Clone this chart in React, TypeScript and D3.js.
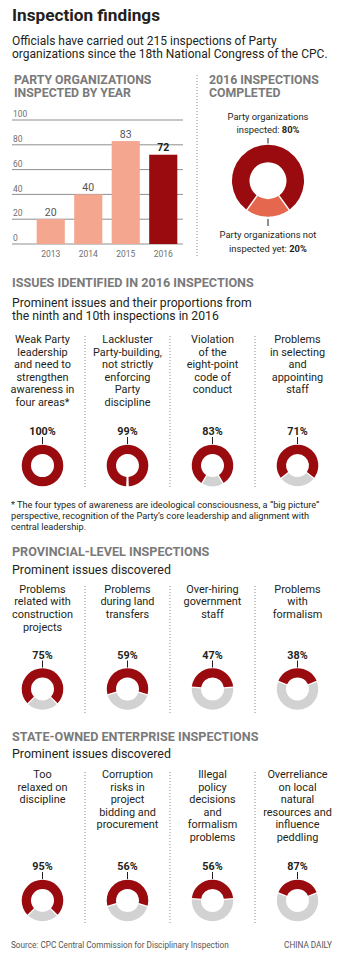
import React from "react";
import * as d3 from "d3";

// ---- data ----
const years = ["2013", "2014", "2015", "2016"];
const inspections = [20, 40, 83, 72];
const yTicks = [0, 20, 40, 60, 80, 100];

const completedLabels = ["inspected", "not inspected"];
const completedShares = [80, 20];

const issueLabels = [
  ["Weak Party", "leadership", "and need to", "strengthen", "awareness in", "four areas*"],
  ["Lackluster", "Party-building,", "not strictly", "enforcing", "Party", "discipline"],
  ["Violation", "of the", "eight-point", "code of", "conduct"],
  ["Problems", "in selecting", "and", "appointing", "staff"],
];
const issueShares = [100, 99, 83, 71];

const provLabels = [
  ["Problems", "related with", "construction", "projects"],
  ["Problems", "during land", "transfers"],
  ["Over-hiring", "government", "staff"],
  ["Problems", "with", "formalism"],
];
const provShares = [75, 59, 47, 38];

const soeLabels = [
  ["Too", "relaxed on", "discipline"],
  ["Corruption", "risks in", "project", "bidding and", "procurement"],
  ["Illegal", "policy", "decisions", "and", "formalism", "problems"],
  ["Overreliance", "on local", "natural", "resources and", "influence", "peddling"],
];
const soeShares = [95, 56, 56, 87];
// the printed rings for this row repeat the provincial arcs
const soeArcShares = [75, 59, 47, 38];

const footnote = [
  "* The four types of awareness are ideological consciousness, a \u201cbig picture\u201d",
  "perspective, recognition of the Party\u2019s core leadership and alignment with",
  "central leadership.",
];

const FONT = "Roboto, 'Open Sans', sans-serif";
const RED = "#9a0b10";
const SALMON = "#f5a68e";
const ORANGE = "#e5674d";
const GREY = "#d2d2d2";
const HEAD = "#7a7a7a";
const INK = "#231f20";

const W = 351;
const H = 963;

// column layout shared by the three ring rows
const col = d3.scaleBand<number>().domain([0, 1, 2, 3]).range([0, 340]);

function Ring({ cx, cy, share, label }: { cx: number; cy: number; share: number; label: string }) {
  const arc = d3.arc<any>().innerRadius(11.5).outerRadius(20.8).padAngle(0.07).padRadius(18);
  const a = (share / 100) * Math.PI;
  return (
    <g>
      <text x={cx} y={cy - 30.5} textAnchor="middle" fontWeight="bold" fontSize={10.8} fill={INK}>
        {label}
      </text>
      <line x1={cx} x2={cx} y1={cy - 28.5} y2={cy - 21.5} stroke={INK} strokeWidth={1} />
      {share < 100 && (
        <path
          transform={`translate(${cx},${cy})`}
          d={arc({ startAngle: a, endAngle: 2 * Math.PI - a }) || ""}
          fill={GREY}
        />
      )}
      <path
        transform={`translate(${cx},${cy})`}
        d={
          share >= 100
            ? d3.arc<any>().innerRadius(11.5).outerRadius(20.8)({ startAngle: 0, endAngle: 2 * Math.PI }) || ""
            : arc({ startAngle: -a, endAngle: a }) || ""
        }
        fill={RED}
      />
    </g>
  );
}

function RingRow({
  labels,
  shares,
  arcShares,
  top,
  ringY,
  divTop,
  divBottom,
}: {
  labels: string[][];
  shares: number[];
  arcShares: number[];
  top: number;
  ringY: number;
  divTop: number;
  divBottom: number;
}) {
  return (
    <g>
      {[1, 2, 3].map((i) => (
        <line
          key={i}
          x1={col(i)!}
          x2={col(i)!}
          y1={divTop}
          y2={divBottom}
          stroke="#8a8a8a"
          strokeDasharray="1,2"
        />
      ))}
      {labels.map((lines, i) => {
        const cx = col(i)! + col.bandwidth() / 2;
        return (
          <g key={i}>
            <text textAnchor="middle" fontSize={10.9} fill={INK}>
              {lines.map((t, j) => (
                <tspan key={j} x={cx} y={top + j * 12.6}>
                  {t}
                </tspan>
              ))}
            </text>
            <Ring cx={cx} cy={ringY} share={arcShares[i]} label={shares[i] + "%"} />
          </g>
        );
      })}
    </g>
  );
}

export default function App() {
  const x = d3.scaleBand<string>().domain(years).range([32, 182]).paddingInner(0.25).paddingOuter(0.125);
  const y = d3.scaleLinear().domain([0, 100]).range([244, 120]);

  const pie = d3
    .pie<number>()
    .sort(null)
    .startAngle(-(completedShares[0] / 100) * Math.PI)
    .endAngle(2 * Math.PI - (completedShares[0] / 100) * Math.PI);
  const bigArc = d3.arc<any>().innerRadius(18.5).outerRadius(36).padAngle(0.05).padRadius(30);
  const slices = pie(completedShares);

  return (
    <svg
      width={W}
      height={H}
      style={{ position: "absolute", left: 0, top: 0, background: "#fff" }}
      fontFamily={FONT}
    >
      <rect width={W} height={H} fill="#fff" />
      {/* title block */}
      <text x={12} y={20.5} fontSize={17.2} fontWeight="bold" fill={INK}>
        Inspection findings
      </text>
      <text fontSize={12} fill={INK}>
        <tspan x={12} y={44.6}>Officials have carried out 215 inspections of Party</tspan>
        <tspan x={12} y={57.8}>organizations since the 18th National Congress of the CPC.</tspan>
      </text>

      {/* bar chart */}
      <text fontSize={12.3} fontWeight="bold" fill={HEAD}>
        <tspan x={14} y={83.6}>PARTY ORGANIZATIONS</tspan>
        <tspan x={14} y={97.1}>INSPECTED BY YEAR</tspan>
      </text>
      {yTicks.map((t) => (
        <g key={t}>
          <line x1={12} x2={183} y1={y(t)} y2={y(t)} stroke="#8f8f8f" strokeWidth={1} />
          <text x={13} y={y(t) - 2.8} fontSize={8.5} fill="#6f6f6f">
            {t}
          </text>
        </g>
      ))}
      {years.map((yr, i) => {
        const last = i === years.length - 1;
        return (
          <g key={yr}>
            <rect
              x={x(yr)!}
              y={y(inspections[i])}
              width={x.bandwidth()}
              height={y(0) - y(inspections[i])}
              fill={last ? RED : SALMON}
            />
            <text
              x={x(yr)! + x.bandwidth() / 2}
              y={y(inspections[i]) - 3.5}
              textAnchor="middle"
              fontSize={10.5}
              fontWeight={last ? "bold" : "normal"}
              fill={last ? INK : "#555"}
            >
              {inspections[i]}
            </text>
            <text x={x(yr)! + x.bandwidth() / 2} y={256.7} textAnchor="middle" fontSize={8.5} fill="#6f6f6f">
              {yr}
            </text>
          </g>
        );
      })}

      <line x1={197} x2={197} y1={75} y2={258} stroke="#8a8a8a" strokeDasharray="1,2" />

      {/* completed donut */}
      <text fontSize={12.3} fontWeight="bold" fill={HEAD}>
        <tspan x={209} y={83.6}>2016 INSPECTIONS</tspan>
        <tspan x={209} y={97.1}>COMPLETED</tspan>
      </text>
      <text textAnchor="middle" fontSize={9.4} fill={INK}>
        <tspan x={268} y={120}>Party organizations</tspan>
        <tspan x={268} y={133.3}>
          {completedLabels[0]}: <tspan fontWeight="bold">{completedShares[0]}%</tspan>
        </tspan>
      </text>
      <line x1={268} x2={268} y1={138} y2={143.5} stroke={INK} />
      <g transform="translate(268,180.7)">
        {slices.map((s, i) => (
          <path key={i} d={bigArc(s) || ""} fill={i === 0 ? RED : ORANGE} />
        ))}
      </g>
      <line x1={268} x2={268} y1={219} y2={226} stroke={INK} />
      <text textAnchor="middle" fontSize={9.4} fill={INK}>
        <tspan x={268} y={238.3}>Party organizations not</tspan>
        <tspan x={268} y={251.7}>
          inspected yet: <tspan fontWeight="bold">{completedShares[1]}%</tspan>
        </tspan>
      </text>

      {/* issues 2016 */}
      <text x={12} y={287} fontSize={12.6} fontWeight="bold" fill={HEAD}>
        ISSUES IDENTIFIED IN 2016 INSPECTIONS
      </text>
      <text fontSize={12.2} fill={INK}>
        <tspan x={12} y={306.6}>Prominent issues and their proportions from</tspan>
        <tspan x={12} y={320.4}>the ninth and 10th inspections in 2016</tspan>
      </text>
      <RingRow
        labels={issueLabels}
        shares={issueShares}
        arcShares={issueShares}
        top={343}
        ringY={465.5}
        divTop={336}
        divBottom={488}
      />
      <text fontSize={9.2} fill={INK}>
        {footnote.map((t, i) => (
          <tspan key={i} x={11} y={508 + i * 11}>
            {t}
          </tspan>
        ))}
      </text>

      {/* provincial */}
      <text x={12} y={555.7} fontSize={12.6} fontWeight="bold" fill={HEAD}>
        PROVINCIAL-LEVEL INSPECTIONS
      </text>
      <text x={12} y={574} fontSize={12.4} fill={INK}>
        Prominent issues discovered
      </text>
      <RingRow
        labels={provLabels}
        shares={provShares}
        arcShares={provShares}
        top={592.7}
        ringY={689}
        divTop={586}
        divBottom={715}
      />

      {/* state-owned enterprises */}
      <text x={12} y={740.7} fontSize={12.6} fontWeight="bold" fill={HEAD}>
        STATE-OWNED ENTERPRISE INSPECTIONS
      </text>
      <text x={12} y={758.3} fontSize={12.4} fill={INK}>
        Prominent issues discovered
      </text>
      <RingRow
        labels={soeLabels}
        shares={soeShares}
        arcShares={soeArcShares}
        top={778}
        ringY={900.5}
        divTop={772}
        divBottom={925}
      />

      <text x={11} y={947.7} fontSize={8.2} fill="#555">
        Source: CPC Central Commission for Disciplinary Inspection
      </text>
      <text x={332} y={947.7} fontSize={8.2} fill="#555" textAnchor="end">
        CHINA DAILY
      </text>
    </svg>
  );
}
